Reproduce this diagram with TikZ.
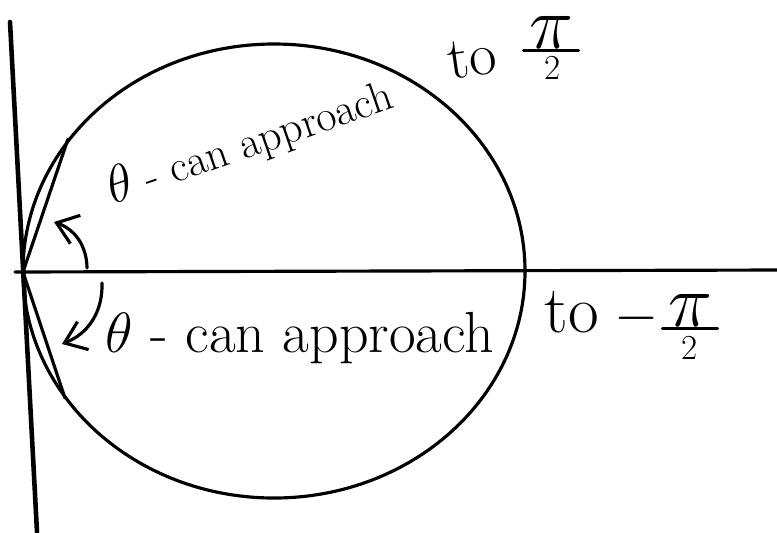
\documentclass[tikz,border=0pt]{standalone}
\usepackage{amsmath,amssymb}
\usepackage{graphicx}
\usetikzlibrary{arrows.meta}
\tikzset{
  every picture/.style={line join=round, line cap=round, >={Straight Barb[length=4mm,width=6mm]}},
  axisline/.style={line width=1.8pt},
  curve/.style={line width=1.8pt},
  hand/.style={font=\fontsize{33}{35}\selectfont, inner sep=0pt},
  handsmall/.style={font=\fontsize{25}{27}\selectfont, inner sep=0pt},
  handtwo/.style={font=\fontsize{20}{22}\selectfont, inner sep=0pt},
}
\newcommand{\mathbig}[2]{\scalebox{#1}{$#2$}}
\begin{document}
\begin{tikzpicture}[x=0.02cm,y=-0.02cm]
\useasboundingbox (0,0) rectangle (777,532);
\coordinate (O) at (23,272);
\coordinate (ytop) at (10,22);
\coordinate (ybot) at (37,532);
\coordinate (xstart) at (15,272);
\coordinate (xend) at (777,270);
\coordinate (ctop) at (68,139);
\coordinate (cbot) at (65,398);
\draw[axisline,line width=2.6pt] (ytop)--(ybot);
\draw[axisline] (xstart)--(xend);
\draw[curve] (274,271) ellipse [x radius=251, y radius=227];
\draw[curve] (O)--(ctop) (O)--(cbot);
% angle arrows
\coordinate (a1s) at (87,268);
\coordinate (a1e) at (54,222);
\coordinate (a2s) at (102,283);
\coordinate (a2e) at (62,344);
\draw[curve,->] (a1s) to[bend right=35] (a1e);
\draw[curve,->] (a2s) to[bend left=35] (a2e);
\node[handsmall,rotate=19] (uptxt) at (250,143) {\mathbig{1.2}{\theta} - can approach};
\node[handsmall,font=\fontsize{34}{36}\selectfont,rotate=8] (upto) at (472,58) {to};
\node[hand] (uppi) at (551,32) {\mathbig{1.7}{\pi}};
\node[handtwo] (uptwo) at (553,68) {2};
\draw[curve] ([xshift=-3pt,yshift=-1pt]uppi.south west)--([xshift=3pt,yshift=-1pt]uppi.south east);
\node[hand,anchor=base] (lowtxt) at (300,352) {\mathbig{1.3}{\theta} - can approach};
\node[hand,font=\fontsize{38}{40}\selectfont,anchor=base] (lowto) at (572,332) {to};
\node[hand] (lowminus) at (637,318) {\mathbig{1.3}{-}};
\node[hand] (lowpi) at (690,310) {\mathbig{1.7}{\pi}};
\node[handtwo] (lowtwo) at (690,348) {2};
\draw[curve] ([xshift=-3pt,yshift=-1pt]lowpi.south west)--([xshift=3pt,yshift=-1pt]lowpi.south east);
\end{tikzpicture}
\end{document}
